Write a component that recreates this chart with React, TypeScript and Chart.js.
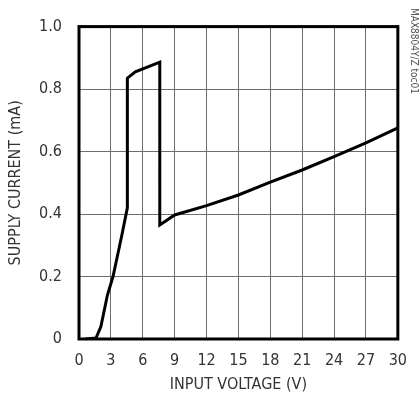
import React, { useEffect, useRef } from "react";
import { Chart, registerables } from "chart.js";

Chart.register(...registerables);

const inputVoltage = [0.6, 1.6, 2.06, 2.67, 3.2, 3.58, 4.03, 4.55, 4.55, 5.3, 7.6, 7.6, 9, 12, 15, 18, 21, 24, 27, 30];
const supplyCurrent = [0, 0.003, 0.04, 0.14, 0.2, 0.26, 0.332, 0.42, 0.835, 0.855, 0.886, 0.365, 0.397, 0.427, 0.461, 0.502, 0.541, 0.584, 0.628, 0.676];

const xTicks = [0, 3, 6, 9, 12, 15, 18, 21, 24, 27, 30];
const yTicks = [0, 0.2, 0.4, 0.6, 0.8, 1.0];

const xTitle = "INPUT VOLTAGE (V)";
const yTitle = "SUPPLY CURRENT (mA)";
const sideNote = "MAX8804Y/Z toc01";

const FONT = "'Liberation Sans Narrow', 'DejaVu Sans Condensed', 'Liberation Sans', sans-serif";

export default function App() {
  const ref = useRef<HTMLCanvasElement | null>(null);

  useEffect(() => {
    if (!ref.current) return;
    const frame = {
      id: "frame",
      afterDraw(chart: any) {
        const { ctx, chartArea } = chart;
        ctx.save();
        ctx.strokeStyle = "#000";
        ctx.lineWidth = 3;
        ctx.strokeRect(chartArea.left, chartArea.top, chartArea.right - chartArea.left, chartArea.bottom - chartArea.top);
        ctx.translate(414, 8);
        ctx.rotate(Math.PI / 2);
        ctx.fillStyle = "#555";
        ctx.font = "10px " + FONT;
        ctx.textAlign = "left";
        ctx.textBaseline = "middle";
        ctx.fillText(sideNote, 0, 0);
        ctx.restore();
      },
    };
    const chart = new Chart(ref.current, {
      type: "scatter",
      data: {
        datasets: [
          {
            data: inputVoltage.map((v, i) => ({ x: v, y: supplyCurrent[i] })),
            showLine: true,
            borderColor: "#000",
            borderWidth: 3,
            pointRadius: 0,
            tension: 0,
            fill: false,
          },
        ],
      },
      options: {
        animation: false,
        responsive: false,
        maintainAspectRatio: false,
        layout: { padding: { left: 0, right: 10, top: 11, bottom: 0 } },
        plugins: { legend: { display: false }, tooltip: { enabled: false } },
        scales: {
          x: {
            type: "linear",
            min: 0,
            max: 30,
            afterBuildTicks: (s: any) => {
              s.ticks = xTicks.map((v) => ({ value: v }));
            },
            afterFit: (s: any) => {
              s.height = 61;
            },
            grid: { color: "#6e6e6e", lineWidth: 1, drawTicks: false },
            border: { display: false },
            ticks: {
              color: "#333",
              font: { family: FONT, size: 16 },
              padding: 12,
              maxRotation: 0,
              callback: (v: any) => String(v),
            },
            title: {
              display: true,
              text: xTitle,
              color: "#333",
              font: { family: FONT, size: 16 },
              padding: { top: 0, bottom: 6 },
            },
          },
          y: {
            type: "linear",
            min: 0,
            max: 1,
            afterBuildTicks: (s: any) => {
              s.ticks = yTicks.map((v) => ({ value: v }));
            },
            afterFit: (s: any) => {
              s.width = 79;
            },
            grid: { color: "#6e6e6e", lineWidth: 1, drawTicks: false },
            border: { display: false },
            ticks: {
              color: "#333",
              font: { family: FONT, size: 16 },
              padding: 17,
              callback: (v: any) => (v === 0 ? "0" : Number(v).toFixed(1)),
            },
            title: {
              display: true,
              text: yTitle,
              color: "#333",
              font: { family: FONT, size: 16 },
              padding: { top: 6, bottom: 0 },
            },
          },
        },
      },
      plugins: [frame],
    });
    return () => chart.destroy();
  }, []);

  return (
    <div style={{ position: "absolute", left: 0, top: 0, width: 419, height: 400, background: "#fff" }}>
      <canvas ref={ref} width={419} height={400} style={{ width: 419, height: 400 }} />
    </div>
  );
}
